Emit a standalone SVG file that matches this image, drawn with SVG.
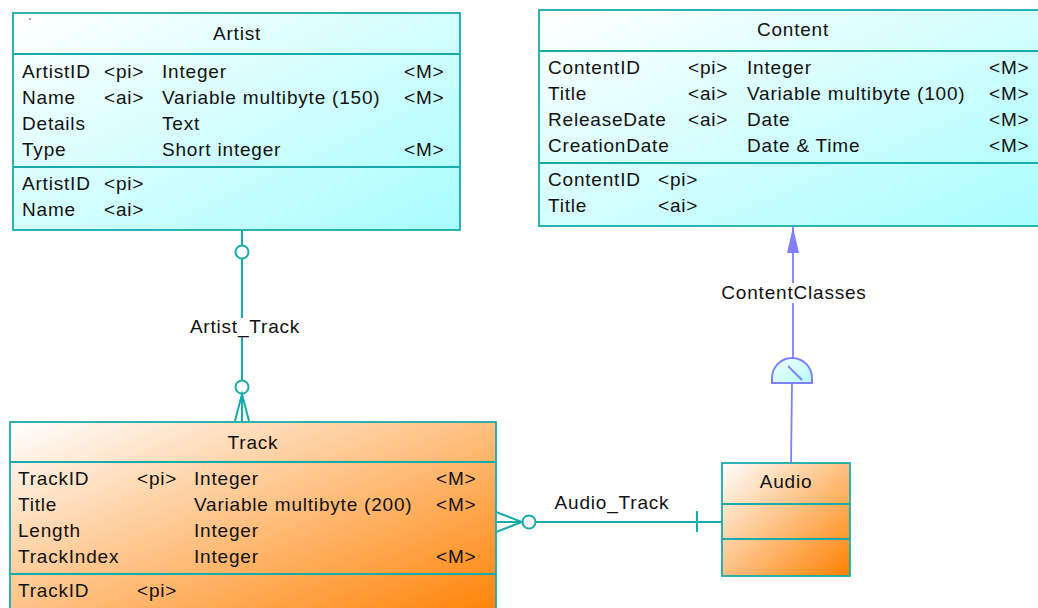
<svg xmlns="http://www.w3.org/2000/svg" width="1038" height="608" viewBox="0 0 1038 608">
  <defs>
    <linearGradient id="gCyan" x1="0" y1="0" x2="1" y2="1">
      <stop offset="0" stop-color="#ffffff"/>
      <stop offset="1" stop-color="#a8fdfd"/>
    </linearGradient>
    <linearGradient id="gOrange" x1="0" y1="0" x2="1" y2="1">
      <stop offset="0" stop-color="#ffffff"/>
      <stop offset="1" stop-color="#ff8000"/>
    </linearGradient>
    <linearGradient id="gSub" x1="0" y1="0" x2="1" y2="1">
      <stop offset="0" stop-color="#f0ffff"/>
      <stop offset="1" stop-color="#b8fbff"/>
    </linearGradient>
    <marker id="inheritArrow" viewBox="0 0 26 12" refX="26" refY="6" markerWidth="26" markerHeight="12" markerUnits="userSpaceOnUse" orient="auto">
      <path d="M0,0 L26,6 L0,12 Z" fill="#8080ff"/>
    </marker>
    <style>
      text { font-family: "Liberation Sans", Arial, sans-serif; font-size: 19px; fill: #111; letter-spacing: 0.8px; }
      .title { text-anchor: middle; }
      .ent { stroke: #19abab; stroke-width: 1.8; }
      .sep { stroke: #19abab; stroke-width: 1.8; }
      .rel { stroke: #19abab; stroke-width: 2; fill: none; }
      .relc { stroke: #19abab; stroke-width: 2; fill: #ffffff; }
      .inh { stroke: #8080ff; stroke-width: 1.8; fill: none; }
    </style>
  </defs>

  <rect width="1038" height="608" fill="#ffffff"/>

  <!-- Artist entity -->
  <g id="artist">
    <rect class="ent" x="13" y="13" width="447" height="217" fill="url(#gCyan)"/>
    <line class="sep" x1="13" y1="54" x2="460" y2="54"/>
    <line class="sep" x1="13" y1="167" x2="460" y2="167"/>
    <rect x="29" y="18" width="2" height="2" fill="#9a9aff"/>
    <text class="title" x="237" y="40">Artist</text>
    <text x="22" y="78">ArtistID</text><text x="104" y="78">&lt;pi&gt;</text><text x="162" y="78">Integer</text><text x="404" y="78">&lt;M&gt;</text>
    <text x="22" y="104">Name</text><text x="104" y="104">&lt;ai&gt;</text><text x="162" y="104">Variable multibyte (150)</text><text x="404" y="104">&lt;M&gt;</text>
    <text x="22" y="130">Details</text><text x="162" y="130">Text</text>
    <text x="22" y="156">Type</text><text x="162" y="156">Short integer</text><text x="404" y="156">&lt;M&gt;</text>
    <text x="22" y="190">ArtistID</text><text x="104" y="190">&lt;pi&gt;</text>
    <text x="22" y="216">Name</text><text x="104" y="216">&lt;ai&gt;</text>
  </g>

  <!-- Content entity -->
  <g id="content">
    <rect class="ent" x="539" y="10" width="508" height="216" fill="url(#gCyan)"/>
    <line class="sep" x1="539" y1="51" x2="1047" y2="51"/>
    <line class="sep" x1="539" y1="163" x2="1047" y2="163"/>
    <text class="title" x="793" y="36">Content</text>
    <text x="548" y="74">ContentID</text><text x="688" y="74">&lt;pi&gt;</text><text x="747" y="74">Integer</text><text x="989" y="74">&lt;M&gt;</text>
    <text x="548" y="100">Title</text><text x="688" y="100">&lt;ai&gt;</text><text x="747" y="100">Variable multibyte (100)</text><text x="989" y="100">&lt;M&gt;</text>
    <text x="548" y="126">ReleaseDate</text><text x="688" y="126">&lt;ai&gt;</text><text x="747" y="126">Date</text><text x="989" y="126">&lt;M&gt;</text>
    <text x="548" y="152">CreationDate</text><text x="747" y="152">Date &amp; Time</text><text x="989" y="152">&lt;M&gt;</text>
    <text x="548" y="186">ContentID</text><text x="658" y="186">&lt;pi&gt;</text>
    <text x="548" y="212">Title</text><text x="658" y="212">&lt;ai&gt;</text>
  </g>

  <!-- Track entity -->
  <g id="track">
    <rect class="ent" x="10" y="422" width="486" height="200" fill="url(#gOrange)"/>
    <line class="sep" x1="10" y1="462" x2="496" y2="462"/>
    <line class="sep" x1="10" y1="574" x2="496" y2="574"/>
    <text class="title" x="253" y="449">Track</text>
    <text x="18" y="485">TrackID</text><text x="137" y="485">&lt;pi&gt;</text><text x="194" y="485">Integer</text><text x="436" y="485">&lt;M&gt;</text>
    <text x="18" y="511">Title</text><text x="194" y="511">Variable multibyte (200)</text><text x="436" y="511">&lt;M&gt;</text>
    <text x="18" y="537">Length</text><text x="194" y="537">Integer</text>
    <text x="18" y="563">TrackIndex</text><text x="194" y="563">Integer</text><text x="436" y="563">&lt;M&gt;</text>
    <text x="18" y="597">TrackID</text><text x="137" y="597">&lt;pi&gt;</text>
  </g>

  <!-- Audio entity -->
  <g id="audio">
    <rect class="ent" x="722" y="463" width="128" height="113" fill="url(#gOrange)"/>
    <line class="sep" x1="722" y1="504" x2="850" y2="504"/>
    <line class="sep" x1="722" y1="539" x2="850" y2="539"/>
    <text class="title" x="786" y="488">Audio</text>
  </g>

  <!-- Relationships and inheritance -->
  <g id="connectors">
    <!-- Artist_Track: zero-or-one at Artist, zero-or-many at Track -->
    <g id="artist_track">
      <line class="rel" x1="242" y1="230" x2="242" y2="318"/>
      <line class="rel" x1="242" y1="337" x2="242" y2="421"/>
      <circle class="relc" cx="242" cy="252" r="6.5"/>
      <circle class="relc" cx="242" cy="387" r="6.5"/>
      <path class="rel" d="M235,421 L242,394 L249,421"/>
      <text class="title" x="245" y="333">Artist_Track</text>
    </g>
    <!-- Audio_Track: zero-or-many at Track, exactly one at Audio -->
    <g id="audio_track">
      <line class="rel" x1="496" y1="522" x2="722" y2="522"/>
      <path class="rel" d="M496,512 L522,522 L496,532"/>
      <circle class="relc" cx="529" cy="522" r="6.5"/>
      <line class="rel" x1="697" y1="511" x2="697" y2="532"/>
      <text class="title" x="612" y="509">Audio_Track</text>
    </g>
    <!-- ContentClasses: Audio inherits from Content -->
    <g id="content_classes">
      <line class="inh" x1="793" y1="283" x2="793" y2="227" marker-end="url(#inheritArrow)"/>
      <line class="inh" x1="793" y1="303" x2="793" y2="358"/>
      <path d="M772,383 L772,378 A20,20 0 0 1 812,378 L812,383 Z" fill="url(#gSub)" stroke="#8080ff" stroke-width="2"/>
      <line class="inh" x1="788" y1="366" x2="802" y2="380"/>
      <line class="inh" x1="792" y1="383" x2="791" y2="463"/>
      <text class="title" x="794" y="299">ContentClasses</text>
    </g>
  </g>
</svg>
